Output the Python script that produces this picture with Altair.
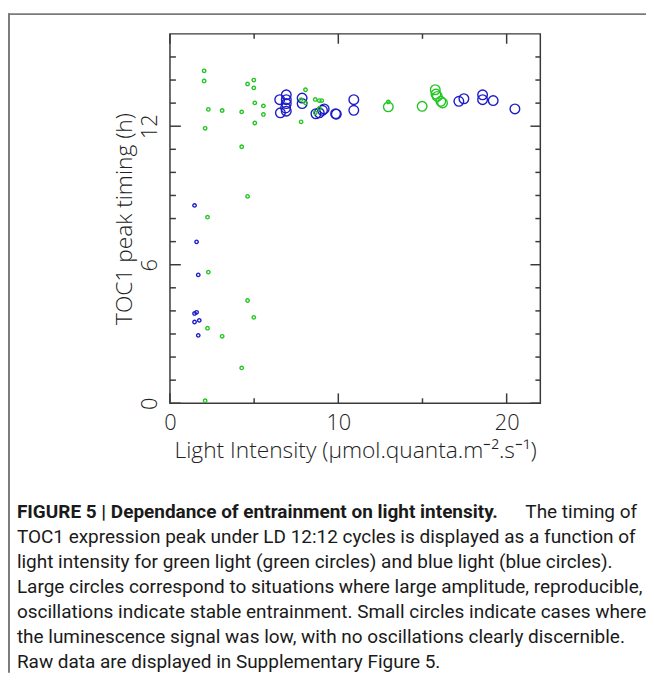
import altair as alt
import pandas as pd

# ---- data ----
blue_large_x = [6.52, 6.56, 6.91, 6.91, 6.91, 6.87, 6.91, 7.85, 7.85, 8.67, 8.87, 9.06, 9.16,
                9.84, 9.88, 10.92, 10.92, 17.16, 17.46, 18.57, 18.57, 19.20, 20.49]
blue_large_y = [13.15, 12.58, 13.36, 13.15, 12.98, 12.79, 12.65, 13.22, 12.98, 12.54, 12.58, 12.69, 12.75,
                12.54, 12.52, 13.15, 12.69, 13.08, 13.19, 13.36, 13.15, 13.11, 12.75]
green_large_x = [12.97, 14.98, 15.76, 15.80, 15.88, 16.09, 16.19]
green_large_y = [12.84, 12.86, 13.58, 13.39, 13.29, 13.08, 13.01]
blue_small_x = [1.46, 1.58, 1.68, 1.58, 1.46, 1.74, 1.46, 1.68]
blue_small_y = [8.57, 6.99, 5.56, 3.94, 3.89, 3.59, 3.52, 2.94]
green_small_x = [2.03, 2.03, 4.98, 4.61, 4.98, 5.04, 5.55, 5.55, 2.28, 3.10, 4.26, 5.04, 2.09, 4.26,
                 4.61, 2.23, 2.28, 4.61, 4.98, 2.23, 3.10, 4.26, 2.09,
                 8.05, 7.79, 8.05, 8.63, 8.87, 9.02, 8.87, 8.63, 7.79, 12.97]
green_small_y = [14.40, 13.96, 14.00, 13.83, 13.66, 13.01, 12.88, 12.51, 12.73, 12.68, 12.62, 12.14, 11.91, 11.11,
                 8.96, 8.06, 5.68, 4.45, 3.72, 3.25, 2.90, 1.53, 0.11,
                 13.58, 13.15, 13.01, 13.16, 13.11, 13.11, 12.77, 12.58, 12.19, 13.05]

x_major = [0, 10, 20]
x_minor = [5, 15]
y_major = [0, 6, 12]
y_minor = [1, 2, 3, 4, 5, 7, 8, 9, 10, 11, 13, 14, 15]
x_labels = [0, 10, 20]
y_labels = [0, 6, 12]

x_title = "Light Intensity (\u03bcmol.quanta.m\u207b\u00b2.s\u207b\u00b9)"
y_title = "TOC1 peak timing (h)"

caption_bold = "FIGURE 5 | Dependance of entrainment on light intensity."
caption_first_rest = "The timing of"
caption_lines = [
    "TOC1 expression peak under LD 12:12 cycles is displayed as a function of",
    "light intensity for green light (green circles) and blue light (blue circles).",
    "Large circles correspond to situations where large amplitude, reproducible,",
    "oscillations indicate stable entrainment. Small circles indicate cases where",
    "the luminescence signal was low, with no oscillations clearly discernible.",
    "Raw data are displayed in Supplementary Figure 5.",
]

# ---- layout ----
W, H = 375, 374
PADL, PADT, PADR, PADB = 164, 22, 107, 273
AX_FONT = "Open Sans"
LAB_SIZE = 22
TIT_SIZE = 23
CAP_FONT = "Roboto"
CAP_SIZE = 19.2
BLUE = "#1c1cc8"
GREEN = "#22c622"
FRAME = "#3a3a3a"

rows = []
for x, y in zip(blue_large_x, blue_large_y):
    rows.append({"x": x, "y": y, "c": "blue", "s": "large"})
for x, y in zip(green_large_x, green_large_y):
    rows.append({"x": x, "y": y, "c": "green", "s": "large"})
for x, y in zip(blue_small_x, blue_small_y):
    rows.append({"x": x, "y": y, "c": "blue", "s": "small"})
for x, y in zip(green_small_x, green_small_y):
    rows.append({"x": x, "y": y, "c": "green", "s": "small"})
pts = pd.DataFrame(rows)

xscale = alt.Scale(domain=[0, 22], nice=False, zero=False)
yscale = alt.Scale(domain=[0, 16], nice=False, zero=False)

x_axis = alt.Axis(values=x_labels, ticks=False, tickSize=0, domain=False, grid=False,
                  labelFont=AX_FONT, labelFontSize=LAB_SIZE, labelFontWeight=300, labelColor="#222",
                  labelPadding=10, labelFlush=False, labelOverlap=False,
                  title=x_title, titleFont=AX_FONT, titleFontSize=TIT_SIZE, titleFontWeight=300,
                  titleColor="#222", titlePadding=6)
y_axis = alt.Axis(values=y_labels, ticks=False, tickSize=0, domain=False, grid=False,
                  labelFont=AX_FONT, labelFontSize=LAB_SIZE, labelFontWeight=300, labelColor="#222",
                  labelAngle=270, labelPadding=9, labelFlush=False, labelOverlap=False,
                  title=y_title, titleFont=AX_FONT, titleFontSize=TIT_SIZE, titleFontWeight=300,
                  titleColor="#222", titlePadding=2)

points = alt.Chart(pts).mark_point(shape="circle", filled=False, strokeWidth=1.4, opacity=1).encode(
    x=alt.X("x:Q", scale=xscale, axis=x_axis),
    y=alt.Y("y:Q", scale=yscale, axis=y_axis),
    color=alt.Color("c:N", scale=alt.Scale(domain=["blue", "green"], range=[BLUE, GREEN]), legend=None),
    size=alt.Size("s:N", scale=alt.Scale(domain=["large", "small"], range=[95, 12]), legend=None),
)


def xticks(vals, y0, y1):
    return alt.Chart(pd.DataFrame({"x": vals})).mark_rule(color=FRAME, strokeWidth=1.5).encode(
        x=alt.X("x:Q", scale=xscale), y=alt.value(y0), y2=alt.value(y1))


def yticks(vals, x0, x1):
    return alt.Chart(pd.DataFrame({"y": vals})).mark_rule(color=FRAME, strokeWidth=1.5).encode(
        y=alt.Y("y:Q", scale=yscale), x=alt.value(x0), x2=alt.value(x1))


ticks = [
    xticks(x_major, H, H - 10), xticks(x_minor, H, H - 5),
    xticks(x_major, 0, 10), xticks(x_minor, 0, 5),
    yticks(y_major, 0, 11), yticks(y_minor, 0, 6),
    yticks(y_major, W, W - 10), yticks(y_minor, W, W - 5),
]

one = pd.DataFrame({"k": [0]})
border_top = alt.Chart(one).mark_rule(color="#7a7a7a", strokeWidth=2).encode(
    x=alt.value(-PADL), x2=alt.value(W + PADR), y=alt.value(-PADT + 2))
border_left = alt.Chart(one).mark_rule(color="#7a7a7a", strokeWidth=2).encode(
    x=alt.value(-PADL + 1), y=alt.value(-PADT + 1), y2=alt.value(H + PADB))

CAP_X = 9 - PADL
CAP_Y0 = 506 - PADT
CAP_DY = 25.4
cap_layers = [
    alt.Chart(pd.DataFrame({"t": [caption_bold]})).mark_text(
        font=CAP_FONT, fontSize=CAP_SIZE, fontWeight="bold", align="left", baseline="middle", color="#1a1a1a"
    ).encode(text="t:N", x=alt.value(CAP_X), y=alt.value(CAP_Y0)),
    alt.Chart(pd.DataFrame({"t": [caption_first_rest]})).mark_text(
        font=CAP_FONT, fontSize=CAP_SIZE, align="right", baseline="middle", color="#1a1a1a"
    ).encode(text="t:N", x=alt.value(637 - PADL), y=alt.value(CAP_Y0)),
]
for i, line in enumerate(caption_lines):
    cap_layers.append(
        alt.Chart(pd.DataFrame({"t": [line]})).mark_text(
            font=CAP_FONT, fontSize=CAP_SIZE, align="left", baseline="middle", color="#1a1a1a"
        ).encode(text="t:N", x=alt.value(CAP_X), y=alt.value(CAP_Y0 + CAP_DY * (i + 1)))
    )

chart = alt.layer(points, *ticks, border_top, border_left, *cap_layers).properties(
    width=W, height=H,
    padding={"left": PADL, "top": PADT, "right": PADR, "bottom": PADB},
    autosize=alt.AutoSizeParams(type="none"),
    background="white",
).configure_view(stroke=FRAME, strokeWidth=1.5)

chart.save("out.html", embed_options={"renderer": "svg", "actions": False})
